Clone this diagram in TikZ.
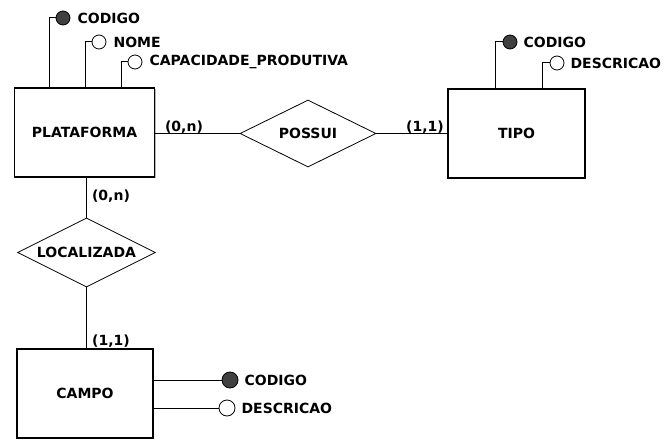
\documentclass[tikz,border=0pt]{standalone}
\usepackage{fontspec}
\setmainfont{DejaVu Sans}
\usetikzlibrary{shapes.geometric}
\usetikzlibrary{positioning}
\usetikzlibrary{shadows}

\newcommand{\erfont}{\fontsize{14}{16}\selectfont\bfseries}

\tikzset{
    entity/.style={draw, line width=1.4pt, fill=white, minimum width=140pt, minimum height=89pt, font=\erfont,
        drop shadow={shadow xshift=1.2pt, shadow yshift=-1.2pt, fill=black!45, opacity=0.6}},
    relation/.style={diamond, aspect=2, draw, line width=0.8pt, fill=white, inner sep=0pt, font=\erfont},
    attrkey/.style={circle, draw, line width=0.8pt, fill=black!75, minimum size=14pt, inner sep=0pt},
    attr/.style={circle, draw, line width=0.8pt, fill=white, minimum size=14pt, inner sep=0pt},
    attrtext/.style={font=\erfont, inner sep=1pt},
    card/.style={font=\erfont, inner sep=1pt},
    conn/.style={line width=1pt}
}

\begin{document}
\begin{tikzpicture}[x=1pt, y=-1pt]
        \useasboundingbox (0,0) rectangle (672,441);

        % Entity PLATAFORMA
        \node[entity] (plat) at (84.5,132.5) {PLATAFORMA};
        \foreach \nm/\sx/\cy/\kind/\txt in {pcod/49/18/attrkey/CODIGO, pnome/85/42/attr/NOME, pcap/121/62/attr/CAPACIDADE\_PRODUTIVA} {
            \node[\kind] (\nm) at (\sx+14,\cy) {};
            \node[attrtext, right=6pt of \nm] (t\nm) {\txt};
            \draw[conn] (plat.north -| \sx,0) |- (\nm);
        }

        % Entity TIPO
        \node[entity, minimum width=137pt] (tipo) at (516.5,133.5) {TIPO};
        \foreach \nm/\sx/\cy/\kind/\txt in {tcod/495/42/attrkey/CODIGO, tdesc/542/63/attr/DESCRICAO} {
            \node[\kind] (\nm) at (\sx+15,\cy) {};
            \node[attrtext, right=5pt of \nm] (t\nm) {\txt};
            \draw[conn] (tipo.north -| \sx,0) |- (\nm);
        }

        % Relation POSSUI
        \node[relation, minimum width=136pt, minimum height=67pt] (possui) at (308,133.5) {POSSUI};
        \draw[conn] (plat.east |- possui.west) -- (possui.west);
        \draw[conn] (possui.east) -- (tipo.west |- possui.east);
        \node[card] (c1) at (184,127) {(0,n)};
        \node[card] (c2) at (425,127) {(1,1)};

        % Relation LOCALIZADA
        \node[relation, minimum width=138pt, minimum height=69pt] (local) at (86.5,252.5) {LOCALIZADA};
        \draw[conn] (plat.south -| local.north) -- (local.north);
        \node[card] (c3) at (111,196) {(0,n)};

        % Entity CAMPO
        \node[entity, minimum width=136pt] (campo) at (85,393.5) {CAMPO};
        \draw[conn] (local.south) -- (campo.north -| local.south);
        \node[card] (c4) at (111,341) {(1,1)};
        \foreach \nm/\cx/\cy/\kind/\txt in {ccod/230/380/attrkey/CODIGO, cdesc/227/408/attr/DESCRICAO} {
            \node[\kind, minimum size=16pt] (\nm) at (\cx,\cy) {};
            \node[attrtext, right=5pt of \nm] (t\nm) {\txt};
            \draw[conn] (campo.east |- \nm) -- (\nm);
        }

\end{tikzpicture}
\end{document}
